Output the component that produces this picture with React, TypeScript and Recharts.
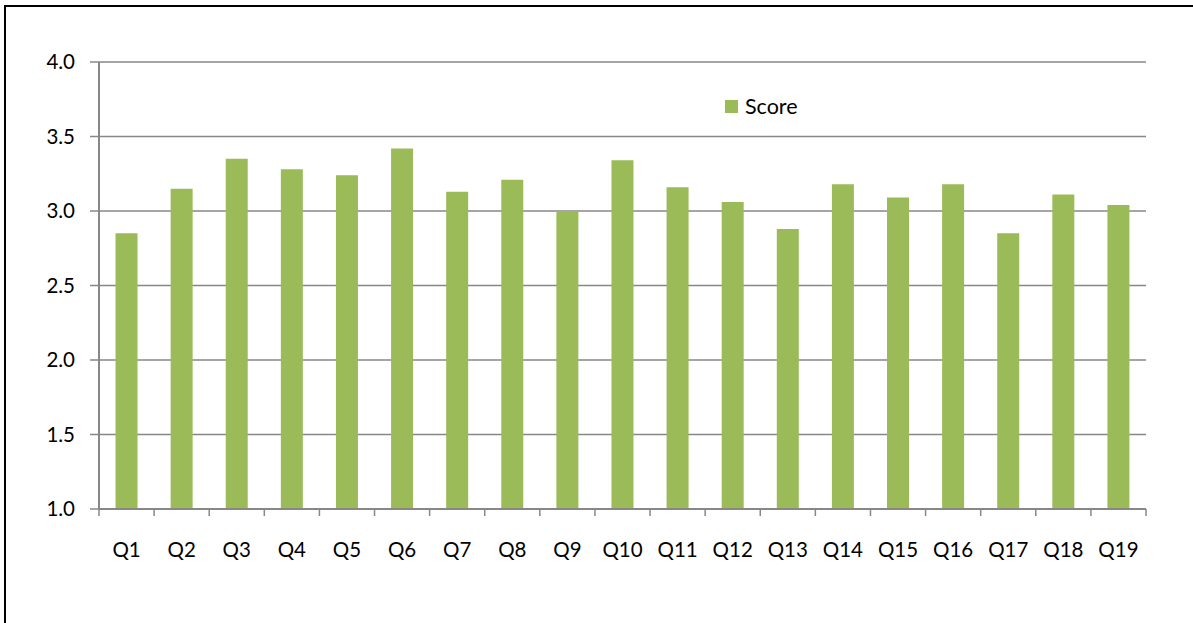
import { Bar, BarChart, CartesianGrid, XAxis, YAxis } from "recharts";

const questions = [
  "Q1", "Q2", "Q3", "Q4", "Q5", "Q6", "Q7", "Q8", "Q9", "Q10",
  "Q11", "Q12", "Q13", "Q14", "Q15", "Q16", "Q17", "Q18", "Q19",
];
const scores = [
  2.85, 3.15, 3.35, 3.28, 3.24, 3.42, 3.13, 3.21, 3.0, 3.34,
  3.16, 3.06, 2.88, 3.18, 3.09, 3.18, 2.85, 3.11, 3.04,
];
const yTicks = [1.0, 1.5, 2.0, 2.5, 3.0, 3.5, 4.0];

const FONT = "Lato, 'Open Sans', sans-serif";
const GREEN = "#9bbb59";
const GREY = "#878787";

const W = 1193;
const H = 623;
const MARGIN = { top: 62, right: 47, left: 0, bottom: 84 };
const Y_AXIS_W = 99;

const data = questions.map((q, i) => ({ q, score: scores[i] }));

// tick marks sit on the category edges, labels in the middle
function QuestionTick(props: any) {
  const { x, y, payload, index } = props;
  const half =
    payload?.offset ?? (W - MARGIN.left - MARGIN.right - Y_AXIS_W) / questions.length / 2;
  return (
    <g>
      <line x1={x - half} y1={y} x2={x - half} y2={y + 7} stroke={GREY} strokeWidth={1.5} />
      {index === questions.length - 1 && (
        <line x1={x + half} y1={y} x2={x + half} y2={y + 7} stroke={GREY} strokeWidth={1.5} />
      )}
      <text x={x} y={y + 48} textAnchor="middle" fill="#000" fontSize={20.5} fontFamily={FONT}>
        {payload.value}
      </text>
    </g>
  );
}

export default function App() {
  return (
    <div style={{ position: "absolute", left: 0, top: 0, width: W, height: H, overflow: "hidden", background: "#fff" }}>
      <div
        style={{
          position: "absolute",
          left: 4,
          top: 5,
          width: 1400,
          height: 800,
          border: "2px solid #000",
        }}
      />
      <div style={{ position: "absolute", left: 0, top: 0 }}>
        <BarChart width={W} height={H} data={data} margin={MARGIN} barCategoryGap="30%">
          <CartesianGrid vertical={false} stroke={GREY} strokeWidth={1.5} />
          <XAxis
            dataKey="q"
            interval={0}
            tickLine={false}
            axisLine={{ stroke: GREY, strokeWidth: 2 }}
            tickSize={0}
            tickMargin={0}
            height={30}
            tick={<QuestionTick />}
          />
          <YAxis
            type="number"
            domain={[1, 4]}
            ticks={yTicks}
            width={Y_AXIS_W}
            tickSize={9}
            tickMargin={15}
            tickFormatter={(v: number) => v.toFixed(1)}
            tickLine={{ stroke: GREY, strokeWidth: 1.5 }}
            axisLine={{ stroke: GREY, strokeWidth: 2 }}
            tick={{ fill: "#000", fontSize: 20.5, fontFamily: FONT }}
            allowDataOverflow
          />
          <Bar dataKey="score" name="Score" fill={GREEN} isAnimationActive={false} />
        </BarChart>
      </div>
      <div
        style={{
          position: "absolute",
          left: 725,
          top: 93,
          display: "flex",
          alignItems: "center",
          fontFamily: FONT,
          fontSize: 21.5,
          color: "#000",
        }}
      >
        <span style={{ width: 13, height: 13, background: GREEN, marginRight: 7 }} />
        Score
      </div>
    </div>
  );
}
